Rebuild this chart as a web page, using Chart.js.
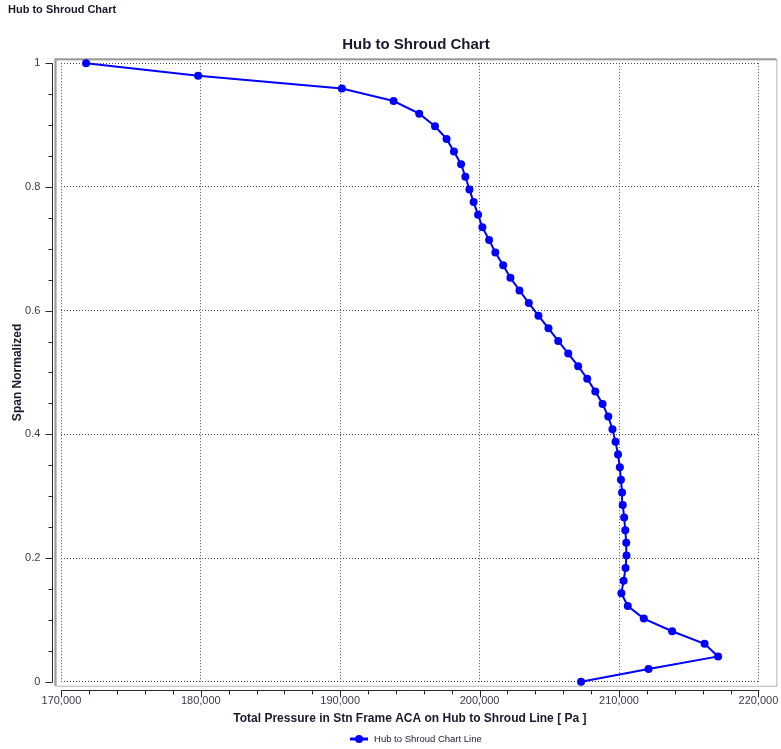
<!DOCTYPE html>
<html>
<head>
<meta charset="utf-8">
<title>Hub to Shroud Chart</title>
<script src="https://cdn.jsdelivr.net/npm/chart.js@4/dist/chart.umd.min.js"></script>
<style>
  html, body { margin: 0; padding: 0; background: #ffffff; }
  #page { position: relative; width: 781px; height: 749px; overflow: hidden; }
  #caption {
    position: absolute; left: 8px; top: 3px;
    font: bold 11px "Liberation Sans", Arial, sans-serif; color: #1a1a2e;
    white-space: nowrap;
  }
  #chart { position: absolute; left: 0; top: 0; }
</style>
</head>
<body>
<div id="page">
  <canvas id="chart" width="781" height="749"></canvas>
  <div id="caption">Hub to Shroud Chart</div>
</div>
<script>
// Normalized span from hub (0) to shroud (1)
const spanNormalized = [
  0, 0.0204, 0.0408, 0.0612, 0.0816, 0.1020, 0.1224, 0.1429, 0.1633, 0.1837,
  0.2041, 0.2245, 0.2449, 0.2653, 0.2857, 0.3061, 0.3265, 0.3469, 0.3673, 0.3878,
  0.4082, 0.4286, 0.4490, 0.4694, 0.4898, 0.5102, 0.5306, 0.5510, 0.5714, 0.5918,
  0.6122, 0.6327, 0.6531, 0.6735, 0.6939, 0.7143, 0.7347, 0.7551, 0.7755, 0.7959,
  0.8163, 0.8367, 0.8571, 0.8776, 0.8980, 0.9184, 0.9388, 0.9592, 0.9796, 1
];

// Total pressure in stationary frame [Pa] at each span position
const totalPressure = [
  207280, 212120, 217110, 216140, 213810, 211780, 210630, 210170, 210330, 210470,
  210540, 210520, 210450, 210370, 210270, 210220, 210140, 210060, 209930, 209750,
  209530, 209230, 208820, 208300, 207720, 207070, 206360, 205640, 204940, 204220,
  203530, 202860, 202210, 201690, 201130, 200680, 200200, 199890, 199570, 199270,
  198980, 198670, 198160, 197630, 196800, 195670, 193830, 190120, 179810, 171770
];

// Axis ranges and tick spacing
const xRange = [170000, 220000];
const xMajorStep = 10000;
const xMinorStep = 2000;
const yRange = [0, 1];
const yMajorStep = 0.2;
const yMinorStep = 0.05;

const chartTitle = 'Hub to Shroud Chart';
const seriesName = 'Hub to Shroud Chart Line';
const xAxisTitle = 'Total Pressure in Stn Frame ACA on Hub to Shroud Line [ Pa ]';
const yAxisTitle = 'Span Normalized';

const LINE_BLUE = '#0000ff';
const TEXT_COLOR = '#1a1a2e';
const TICK_COLOR = '#3a3a4a';
const FONT = '"Liberation Sans", Arial, sans-serif';

const points = totalPressure.map((p, i) => ({ x: p, y: spanNormalized[i] }));

// Frame, axis lines with major/minor ticks, title and legend
const decorations = {
  id: 'decorations',
  beforeDraw(chart) {
    const { ctx, chartArea: a } = chart;
    ctx.save();
    ctx.fillStyle = '#ffffff';
    ctx.fillRect(0, 0, chart.width, chart.height);
    // plot frame
    const fl = a.left - 6, ft = a.top - 4, fr = a.right + 18, fb = a.bottom + 4;
    ctx.strokeStyle = '#b4b4b4';
    ctx.lineWidth = 1;
    ctx.strokeRect(fl + 0.5, ft + 0.5, fr - fl, fb - ft);
    ctx.strokeStyle = '#9a9a9a';
    ctx.lineWidth = 2;
    ctx.beginPath();
    ctx.moveTo(fl, fb);
    ctx.lineTo(fl, ft);
    ctx.lineTo(fr, ft);
    ctx.stroke();
    ctx.restore();
  },
  afterDraw(chart) {
    const { ctx, chartArea: a } = chart;
    const xs = chart.scales.x, ys = chart.scales.y;
    ctx.save();
    ctx.strokeStyle = '#2a2a2a';
    ctx.lineWidth = 1;

    // y axis line and ticks
    const ax = Math.round(a.left - 9) + 0.5;
    ctx.beginPath();
    ctx.moveTo(ax, ys.getPixelForValue(yRange[1]));
    ctx.lineTo(ax, ys.getPixelForValue(yRange[0]) + 0.5);
    const yCount = Math.round((yRange[1] - yRange[0]) / yMinorStep);
    for (let i = 0; i <= yCount; i++) {
      const v = yRange[0] + i * yMinorStep;
      const major = Math.abs(v / yMajorStep - Math.round(v / yMajorStep)) < 1e-6;
      const py = Math.round(ys.getPixelForValue(v)) + 0.5;
      ctx.moveTo(ax, py);
      ctx.lineTo(ax - (major ? 7 : 4), py);
    }
    ctx.stroke();

    // x axis line and ticks
    const ay = Math.round(a.bottom + 8) + 0.5;
    ctx.beginPath();
    ctx.moveTo(xs.getPixelForValue(xRange[0]), ay);
    ctx.lineTo(xs.getPixelForValue(xRange[1]) + 1, ay);
    for (let v = xRange[0]; v <= xRange[1]; v += xMinorStep) {
      const major = v % xMajorStep === 0;
      const px = Math.round(xs.getPixelForValue(v)) + 0.5;
      ctx.moveTo(px, ay);
      ctx.lineTo(px, ay + (major ? 7 : 4));
    }
    ctx.stroke();

    // chart title, centred over the frame
    const frameCenter = (a.left - 6 + a.right + 18) / 2;
    ctx.fillStyle = TEXT_COLOR;
    ctx.font = 'bold 15px ' + FONT;
    ctx.textAlign = 'center';
    ctx.textBaseline = 'middle';
    ctx.fillText(chartTitle, frameCenter, a.top - 18);

    // legend
    ctx.font = '9.5px ' + FONT;
    const tw = ctx.measureText(seriesName).width;
    const lineLen = 18, gap = 6;
    const lx = frameCenter - (lineLen + gap + tw) / 2;
    const ly = chart.height - 10;
    ctx.strokeStyle = LINE_BLUE;
    ctx.lineWidth = 3;
    ctx.beginPath();
    ctx.moveTo(lx, ly);
    ctx.lineTo(lx + lineLen, ly);
    ctx.stroke();
    ctx.fillStyle = LINE_BLUE;
    ctx.beginPath();
    ctx.arc(lx + lineLen / 2, ly, 4, 0, Math.PI * 2);
    ctx.fill();
    ctx.fillStyle = TEXT_COLOR;
    ctx.textAlign = 'left';
    ctx.fillText(seriesName, lx + lineLen + gap, ly);
    ctx.restore();
  }
};

new Chart(document.getElementById('chart'), {
  type: 'scatter',
  data: {
    datasets: [{
      label: seriesName,
      data: points,
      showLine: true,
      borderColor: LINE_BLUE,
      backgroundColor: LINE_BLUE,
      borderWidth: 2,
      pointRadius: 4,
      pointBorderWidth: 0,
      pointBackgroundColor: LINE_BLUE,
      tension: 0,
      clip: false
    }]
  },
  options: {
    responsive: false,
    animation: false,
    devicePixelRatio: 1,
    layout: { padding: { left: 0, right: 22.6, top: 63.2, bottom: 20 } },
    plugins: {
      legend: { display: false },
      title: { display: false },
      tooltip: { enabled: false }
    },
    scales: {
      x: {
        type: 'linear',
        min: xRange[0],
        max: xRange[1],
        afterFit(scale) {
          scale.height = 47.3;
          scale.paddingLeft = 0;
          scale.paddingRight = 0;
        },
        ticks: {
          stepSize: xMajorStep,
          padding: 13,
          color: TICK_COLOR,
          font: { family: FONT, size: 11 },
          maxRotation: 0
        },
        grid: { color: '#4a4a4a', lineWidth: 1, drawTicks: false },
        border: { display: false, dash: [1, 2] },
        title: {
          display: true,
          text: xAxisTitle,
          color: TEXT_COLOR,
          font: { family: FONT, size: 12, weight: 'bold' },
          padding: { top: 0, bottom: 3 }
        }
      },
      y: {
        type: 'linear',
        min: yRange[0],
        max: yRange[1],
        afterFit(scale) {
          scale.width = 61.4;
          scale.paddingTop = 0;
          scale.paddingBottom = 0;
        },
        ticks: {
          stepSize: yMajorStep,
          padding: 21,
          color: TICK_COLOR,
          font: { family: FONT, size: 11 },
          callback: (value) => String(Number(value.toFixed(2)))
        },
        grid: { color: '#4a4a4a', lineWidth: 1, drawTicks: false },
        border: { display: false, dash: [1, 2] },
        title: {
          display: true,
          text: yAxisTitle,
          color: TEXT_COLOR,
          font: { family: FONT, size: 12, weight: 'bold' },
          padding: { top: 10, bottom: 0 }
        }
      }
    }
  },
  plugins: [decorations]
});
</script>
</body>
</html>
